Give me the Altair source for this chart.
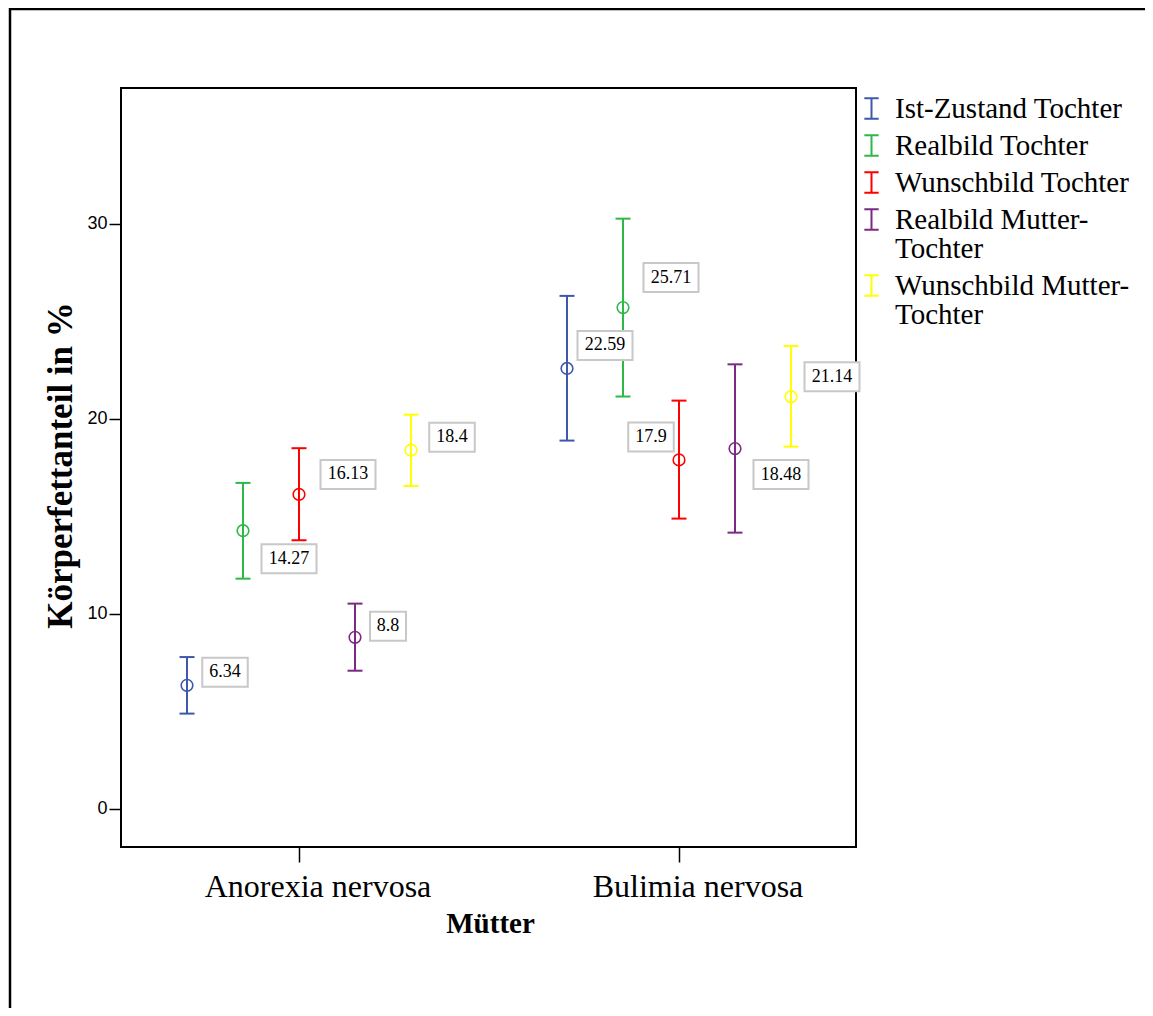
import altair as alt
import pandas as pd

# ---------------- data ----------------
categories = ["Anorexia nervosa", "Bulimia nervosa"]
series = ["Ist-Zustand Tochter", "Realbild Tochter", "Wunschbild Tochter",
          "Realbild Mutter-Tochter", "Wunschbild Mutter-Tochter"]
colors = ["#3E58AC", "#2EB848", "#FF0000", "#7B2A83", "#FFFF00"]

mean_an = [6.34, 14.27, 16.13, 8.8, 18.4]
low_an = [4.89, 11.81, 13.78, 7.09, 16.56]
high_an = [7.79, 16.72, 18.50, 10.53, 20.22]

mean_bn = [22.59, 25.71, 17.9, 18.48, 21.14]
low_bn = [18.89, 21.15, 14.89, 14.17, 18.58]
high_bn = [26.31, 30.27, 20.94, 22.80, 23.74]

# label nudges in pixels relative to each point (annotation layout)
label_dx_an = [38, 46, 49, 33, 41]
label_dy_an = [-13, 28, -20, -11, -13]
label_dx_bn = [38, 48, -28, 46, 41]
label_dy_bn = [-23, -30, -23, 26, -20]

# ---------------- layout constants ----------------
W, H = 735, 759
GROUP_PX = 380.0       # px between group centres
GROUP0_PX = 178.0      # px from left edge to first group centre
STEP_PX = 56.0         # px between series within a group
CAP_PX = 15.0
BOX_H_PX = 29.0
CAT_LABEL_DX_PX = 19.0
Y_DOMAIN = [-1.95, 36.97]
PX_PER_Y = H / (Y_DOMAIN[1] - Y_DOMAIN[0])

rows = []
groups = [(mean_an, low_an, high_an, label_dx_an, label_dy_an),
          (mean_bn, low_bn, high_bn, label_dx_bn, label_dy_bn)]
for g, (means, lows, highs, ldx, ldy) in enumerate(groups):
    for s, name in enumerate(series):
        x = g + (s - 2) * STEP_PX / GROUP_PX
        m = means[s]
        lab = f"{m:g}"
        ndig = sum(c.isdigit() for c in lab)
        box_w = ndig * 9.5 + 5 + 12
        lx = x + ldx[s] / GROUP_PX
        ly = m - ldy[s] / PX_PER_Y
        rows.append(dict(
            cat=categories[g], series=name, x=x, mean=m, lo=lows[s], hi=highs[s],
            cl=x - CAP_PX / 2 / GROUP_PX, cr=x + CAP_PX / 2 / GROUP_PX,
            label=lab, lx=lx, ly=ly,
            bx1=lx - box_w / 2 / GROUP_PX, bx2=lx + box_w / 2 / GROUP_PX,
            by1=ly - BOX_H_PX / 2 / PX_PER_Y, by2=ly + BOX_H_PX / 2 / PX_PER_Y,
        ))
df = pd.DataFrame(rows)
cat_df = pd.DataFrame({"cat": categories,
                       "cx": [g + CAT_LABEL_DX_PX / GROUP_PX for g in range(len(categories))]})

xscale = alt.Scale(domain=[-GROUP0_PX / GROUP_PX, (W - GROUP0_PX) / GROUP_PX],
                   nice=False, zero=False)
yscale = alt.Scale(domain=Y_DOMAIN, nice=False, zero=False)

xaxis = alt.Axis(values=list(range(len(categories))), labels=False, grid=False,
                 domain=False, tickSize=15, tickWidth=1.5, tickColor="black",
                 title="Mütter", titleFont="Liberation Serif", titleFontWeight="bold",
                 titleFontSize=29, titleColor="black", titleX=369, titleY=85,
                 titleBaseline="alphabetic", titleAlign="center")
yaxis = alt.Axis(values=[0, 10, 20, 30], format="d", grid=False, domain=False,
                 tickSize=12, tickWidth=1.5, tickColor="black",
                 labelFont="Liberation Sans", labelFontSize=18, labelColor="black",
                 labelPadding=2,
                 title="Körperfettanteil in %", titleFont="Liberation Serif",
                 titleFontWeight="bold", titleFontSize=35, titleColor="black",
                 titleAngle=270, titleX=-50, titleY=377, titleLimit=600,
                 titleBaseline="alphabetic", titleAlign="center")

label_split = ("indexof(datum.label,'Mutter-')>=0 ? "
               "[slice(datum.label,0,indexof(datum.label,'Mutter-')+7), "
               "slice(datum.label,indexof(datum.label,'Mutter-')+7)] : datum.label")

legend = alt.Legend(title=None, orient="none", legendX=736, legendY=6,
                    symbolType="M-0.7,-1H0.7M0,-1V1M-0.7,1H0.7", symbolSize=420,
                    symbolStrokeWidth=2, symbolFillColor="transparent",
                    labelFont="Liberation Serif", labelFontSize=29, labelColor="black",
                    labelLimit=400, labelOffset=9, rowPadding=7, padding=0,
                    labelExpr=label_split)

color = alt.Color("series:N", scale=alt.Scale(domain=series, range=colors),
                  legend=legend)

base = alt.Chart(df)

frame = alt.Chart(pd.DataFrame({"a": [0]})).mark_rect(
    fillOpacity=0, stroke="black", strokeWidth=2.5
).encode(x=alt.value(-111), x2=alt.value(1100), y=alt.value(-79), y2=alt.value(1000))

rules = base.mark_rule(strokeWidth=2).encode(
    x=alt.X("x:Q", scale=xscale, axis=xaxis),
    y=alt.Y("lo:Q", scale=yscale, axis=yaxis),
    y2="hi:Q",
    color=color,
)
caps_lo = base.mark_rule(strokeWidth=2).encode(
    x=alt.X("cl:Q", scale=xscale), x2="cr:Q",
    y=alt.Y("lo:Q", scale=yscale), color=color)
caps_hi = base.mark_rule(strokeWidth=2).encode(
    x=alt.X("cl:Q", scale=xscale), x2="cr:Q",
    y=alt.Y("hi:Q", scale=yscale), color=color)
points = base.mark_point(filled=False, size=135, strokeWidth=1.6, opacity=1).encode(
    x=alt.X("x:Q", scale=xscale),
    y=alt.Y("mean:Q", scale=yscale),
    color=color,
)
boxes = base.mark_rect(fill="white", stroke="#C8C8C8", strokeWidth=2).encode(
    x=alt.X("bx1:Q", scale=xscale), x2="bx2:Q",
    y=alt.Y("by1:Q", scale=yscale), y2="by2:Q",
)
texts = base.mark_text(font="Liberation Serif", fontSize=18, color="black",
                       align="center", baseline="middle").encode(
    x=alt.X("lx:Q", scale=xscale),
    y=alt.Y("ly:Q", scale=yscale),
    text="label:N",
)
cat_labels = alt.Chart(cat_df).mark_text(
    font="Liberation Serif", fontSize=32, color="black",
    align="center", baseline="alphabetic"
).encode(
    x=alt.X("cx:Q", scale=xscale),
    y=alt.value(H + 50),
    text="cat:N",
)

chart = alt.layer(frame, rules, caps_lo, caps_hi, points, boxes, texts,
                  cat_labels).properties(
    width=W, height=H,
    padding={"left": 113, "top": 80, "right": 289, "bottom": 161},
    autosize="none",
    background="white",
).configure(
    view=alt.ViewConfig(stroke="black", strokeWidth=2),
    style={"guide-label": {"lineHeight": 29}},
)

chart.save("out.html", embed_options={"renderer": "svg", "actions": False})
